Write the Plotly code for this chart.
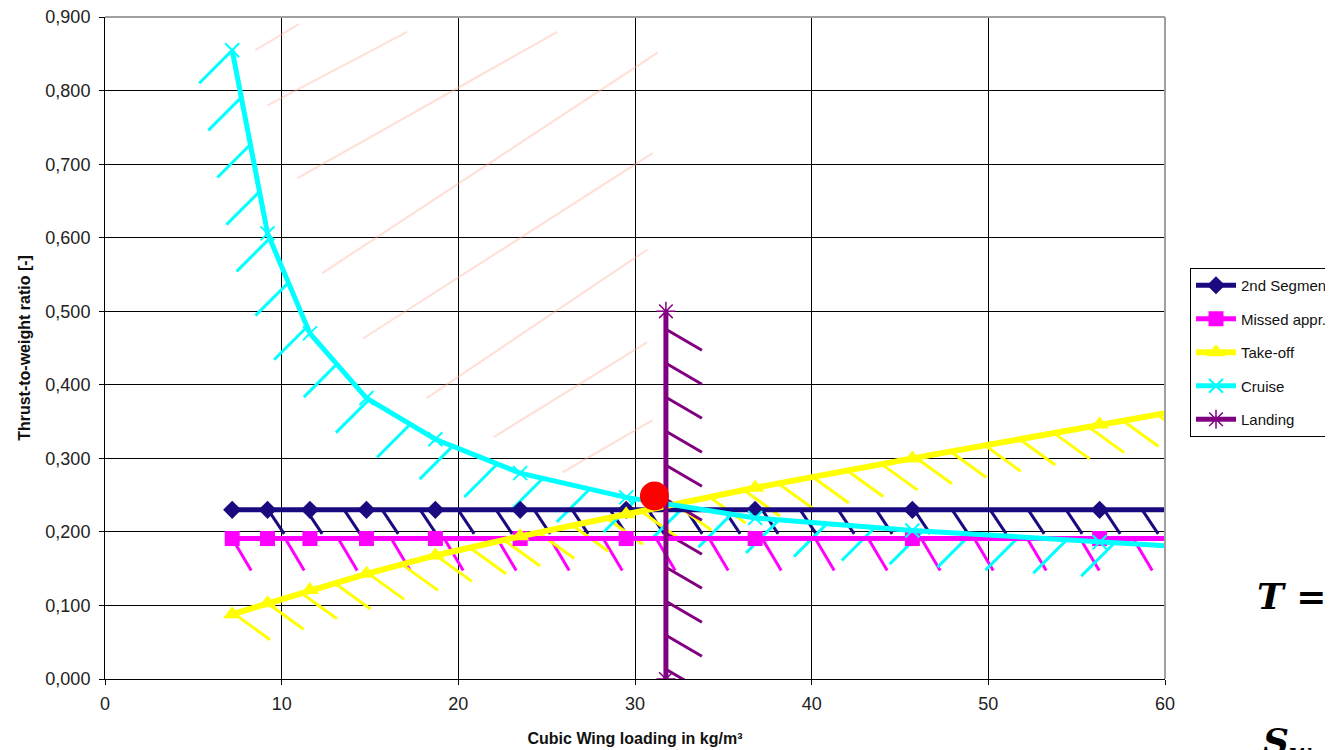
import plotly.graph_objects as go

# ---------------- data ----------------
wing_loading = [7.2, 9.2, 11.6, 14.8, 18.7, 23.5, 29.5, 36.8, 45.7, 56.3, 69.0]
second_segment = [0.230, 0.230, 0.230, 0.230, 0.230, 0.230, 0.230, 0.230, 0.230, 0.230, 0.230]
missed_appr = [0.191, 0.191, 0.191, 0.191, 0.191, 0.191, 0.191, 0.191, 0.191, 0.191, 0.191]
take_off = [0.088, 0.103, 0.121, 0.143, 0.168, 0.194, 0.224, 0.260, 0.300, 0.346, 0.400]
cruise = [0.855, 0.606, 0.470, 0.382, 0.326, 0.280, 0.247, 0.219, 0.202, 0.186, 0.168]
landing_x = [31.75, 31.75]
landing_y = [0.000, 0.500]
design_x = [31.1]
design_y = [0.249]

# light feasible-region hatching (start / end points)
region_x0 = [8.5, 9.2, 10.9, 12.3, 14.6, 18.2, 22.0, 25.9]
region_y0 = [0.855, 0.780, 0.681, 0.552, 0.463, 0.382, 0.329, 0.281]
region_x1 = [11.0, 17.1, 25.6, 31.3, 31.0, 30.7, 30.7, 31.0]
region_y1 = [0.891, 0.880, 0.880, 0.852, 0.715, 0.584, 0.458, 0.352]

x_ticks = [0, 10, 20, 30, 40, 50, 60]
y_ticks = [0.0, 0.1, 0.2, 0.3, 0.4, 0.5, 0.6, 0.7, 0.8, 0.9]

# ---------------- layout geometry (page pixels) ----------------
OFF = 8                      # default page body margin
PLOT_L, PLOT_T, PLOT_R, PLOT_B = 105, 17, 1165, 679
W, H = 1333 - OFF, 750 - OFF
ML, MT = PLOT_L - OFF, PLOT_T - OFF
MR, MB = W + OFF - PLOT_R, H + OFF - PLOT_B
X_RANGE = [0, 60]
Y_RANGE = [0, 0.9002]
PW = PLOT_R - PLOT_L
PH = PLOT_B - PLOT_T
SX = PW / (X_RANGE[1] - X_RANGE[0])
SY = PH / (Y_RANGE[1] - Y_RANGE[0])


def px_to_paper(px, py):
    return (px - PLOT_L) / PW, (PLOT_B - py) / PH


def hatch(xs, ys, s0, ds, dpx, dpy, xmax=60.0):
    """Short hatch strokes along a polyline (spacing/offset in screen pixels)."""
    px = [(x - X_RANGE[0]) * SX for x in xs]
    py = [-(y - Y_RANGE[0]) * SY for y in ys]
    hx, hy = [], []
    s_next = s0
    s_acc = 0.0
    for i in range(len(px) - 1):
        ax, ay, bx, by = px[i], py[i], px[i + 1], py[i + 1]
        seg = ((bx - ax) ** 2 + (by - ay) ** 2) ** 0.5
        while s_next <= s_acc + seg + 1e-9:
            t = (s_next - s_acc) / seg if seg > 0 else 0
            cx, cy = ax + t * (bx - ax), ay + t * (by - ay)
            x0 = X_RANGE[0] + cx / SX
            if x0 > xmax - 0.3:
                return hx, hy
            y0 = Y_RANGE[0] - cy / SY
            x1 = X_RANGE[0] + (cx + dpx) / SX
            y1 = Y_RANGE[0] - (cy + dpy) / SY
            hx += [x0, x1, None]
            hy += [y0, y1, None]
            s_next += ds
        s_acc += seg
    return hx, hy


NAVY = "#1a0a80"
MAGENTA = "#ff00ff"
YELLOW = "#ffff00"
CYAN = "#00ffff"
PURPLE = "#800080"
FONT = "Liberation Sans, Arial, sans-serif"

fig = go.Figure()

# region hatching
rx, ry = [], []
for a, b, c, d in zip(region_x0, region_y0, region_x1, region_y1):
    rx += [a, c, None]
    ry += [b, d, None]
fig.add_trace(go.Scatter(x=rx, y=ry, mode="lines", showlegend=False, hoverinfo="skip",
                         line=dict(color="rgba(255,170,150,0.38)", width=2)))

# constraint hatches
for xs, ys, s0, ds, dpx, dpy, col in [
    (wing_loading, second_segment, 36, 38, 16, 24, NAVY),
    (wing_loading, missed_appr, 0, 53, 19, 32, MAGENTA),
    (wing_loading, take_off, 2, 35, 36, 26, YELLOW),
    (wing_loading, cruise, 0, 48, -33, 33, CYAN),
]:
    hx, hy = hatch(xs, ys, s0, ds, dpx, dpy)
    fig.add_trace(go.Scatter(x=hx, y=hy, mode="lines", showlegend=False, hoverinfo="skip",
                             line=dict(color=col, width=3)))

lhx, lhy = hatch(landing_x[::-1], landing_y[::-1], 18, 34, 36, 21)
fig.add_trace(go.Scatter(x=lhx, y=lhy, mode="lines", showlegend=False, hoverinfo="skip",
                         line=dict(color=PURPLE, width=3)))

# main constraint lines
fig.add_trace(go.Scatter(x=wing_loading, y=second_segment, name="2nd Segment",
                         legendgroup="a", mode="lines+markers",
                         line=dict(color=NAVY, width=5),
                         marker=dict(symbol="diamond", size=14, color=NAVY)))
fig.add_trace(go.Scatter(x=wing_loading, y=missed_appr, name="Missed appr.",
                         legendgroup="b", mode="lines+markers",
                         line=dict(color=MAGENTA, width=5),
                         marker=dict(symbol="square", size=15, color=MAGENTA)))
fig.add_trace(go.Scatter(x=wing_loading, y=take_off, name="Take-off",
                         legendgroup="c", mode="lines+markers",
                         line=dict(color=YELLOW, width=6),
                         marker=dict(symbol="triangle-up", size=16, color=YELLOW)))
fig.add_trace(go.Scatter(x=wing_loading, y=cruise, name="Cruise",
                         legendgroup="d", mode="lines+markers",
                         line=dict(color=CYAN, width=5),
                         marker=dict(symbol="x-thin-open", size=14,
                                     line=dict(color=CYAN, width=2))))
fig.add_trace(go.Scatter(x=landing_x, y=landing_y, name="Landing",
                         legendgroup="e", mode="lines+markers",
                         line=dict(color=PURPLE, width=5),
                         marker=dict(symbol="asterisk-open", size=16,
                                     line=dict(color=PURPLE, width=1.5))))
fig.add_trace(go.Scatter(x=design_x, y=design_y, mode="markers", showlegend=False,
                         marker=dict(symbol="circle", size=29, color="#ff0000")))

axis_common = dict(showgrid=True, gridcolor="#000000", gridwidth=1,
                   showline=True, linecolor="#000000", linewidth=1,
                   ticks="outside", ticklen=5, tickcolor="#000000",
                   zeroline=False,
                   tickfont=dict(family=FONT, size=18, color="#222222"))

lx, ly = px_to_paper(1190, 268)
t_x, t_y = px_to_paper(1292, 596)
s_x, s_y = px_to_paper(1300, 744)

fig.update_layout(
    width=W, height=H,
    margin=dict(l=ML, r=MR, t=MT, b=MB, autoexpand=False),
    paper_bgcolor="white", plot_bgcolor="white",
    separators=", ",
    xaxis=dict(range=X_RANGE, tickvals=x_ticks, ticklabelstandoff=3, **axis_common,
               title=dict(text="<b>Cubic Wing loading in kg/m³</b>", standoff=20,
                          font=dict(family=FONT, size=16, color="#111111"))),
    yaxis=dict(range=Y_RANGE, tickvals=y_ticks, tickformat=".3f", ticklabelstandoff=5,
               ticklabeloverflow="allow", **axis_common,
               title=dict(text="<b>Thrust-to-weight ratio [-]</b>", standoff=10,
                          font=dict(family=FONT, size=16, color="#111111"))),
    legend=dict(x=lx, xanchor="left", y=ly, yanchor="top",
                bgcolor="white", bordercolor="#000000", borderwidth=1,
                tracegroupgap=11, itemwidth=40,
                font=dict(family=FONT, size=15, color="#111111")),
    shapes=[
        dict(type="line", xref="x domain", yref="y domain", x0=0, x1=1, y0=1, y1=1,
             line=dict(color="#a0a0a0", width=2), layer="above"),
        dict(type="line", xref="x domain", yref="y domain", x0=1, x1=1, y0=0, y1=1,
             line=dict(color="#a0a0a0", width=2), layer="above"),
    ],
    annotations=[
        dict(xref="paper", yref="paper", x=t_x, y=t_y,
             text="<b><i>T</i> =</b>", showarrow=False, xanchor="center", yanchor="middle",
             font=dict(family="DejaVu Serif", size=36, color="#000000")),
        dict(xref="paper", yref="paper", x=s_x, y=s_y,
             text="<b><i>S</i><sub><i>w</i></sub> :</b>", showarrow=False,
             xanchor="center", yanchor="middle",
             font=dict(family="DejaVu Serif", size=36, color="#000000")),
    ],
)

fig.write_html("out.html")
